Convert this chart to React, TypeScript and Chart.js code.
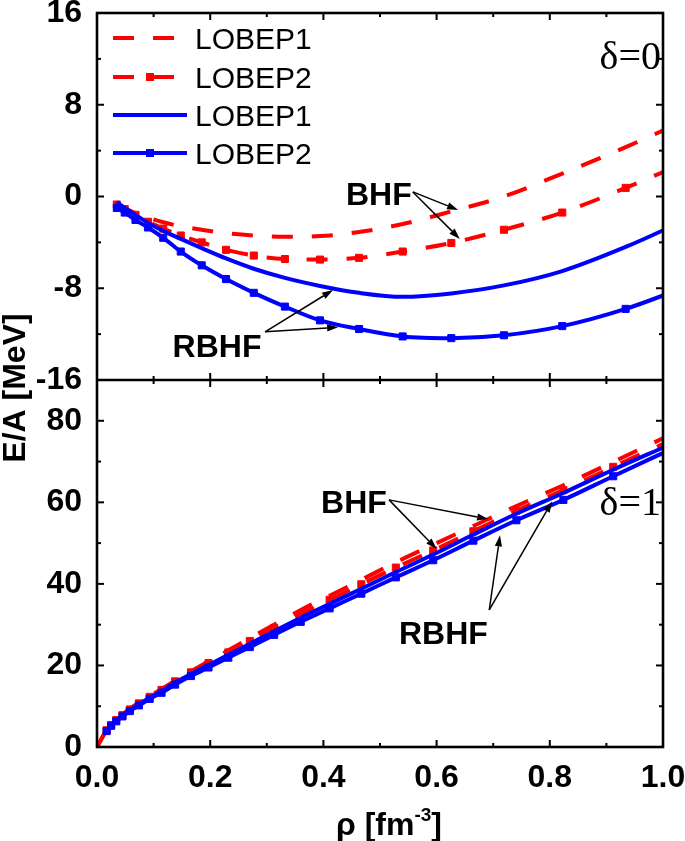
import React, { useEffect, useRef } from 'react';
import { Chart, registerables } from 'chart.js';

Chart.register(...registerables);

// ---------- data ----------
// delta = 0 (symmetric matter) density grid
const rhoSym = [0.035, 0.049, 0.068, 0.090, 0.117, 0.148, 0.185, 0.228, 0.277, 0.332, 0.394, 0.463, 0.540, 0.626, 0.719, 0.822, 0.934, 1.055];
const bhfL1Sym = [-0.6, -1.0, -1.45, -1.85, -2.25, -2.6, -2.9, -3.2, -3.4, -3.5, -3.45, -3.1, -2.4, -1.3, 0.0, 2.0, 4.3, 7.0];
const bhfL2Sym = [-0.7, -1.1, -1.6, -2.2, -2.8, -3.4, -4.0, -4.65, -5.15, -5.45, -5.5, -5.35, -4.8, -4.05, -2.9, -1.4, 0.75, 3.3];
const rbhfL1Sym = [-0.5, -1.0, -1.6, -2.3, -3.0, -3.7, -4.5, -5.4, -6.3, -7.1, -7.8, -8.4, -8.75, -8.45, -7.75, -6.5, -4.4, -1.7];
const rbhfL2Sym = [-1.0, -1.4, -2.05, -2.7, -3.6, -4.8, -6.0, -7.2, -8.4, -9.6, -10.8, -11.55, -12.2, -12.35, -12.1, -11.3, -9.8, -7.6];

// delta = 1 (neutron matter) density grid
const rhoNeu = [0.017, 0.025, 0.034, 0.045, 0.058, 0.074, 0.093, 0.114, 0.138, 0.166, 0.197, 0.232, 0.270, 0.313, 0.360, 0.411, 0.467, 0.528, 0.594, 0.665, 0.741, 0.824, 0.912, 1.006];
const rhoNeuBhf = [0.0, 0.017, 0.025, 0.034, 0.045, 0.058, 0.074, 0.093, 0.114, 0.138, 0.166, 0.197, 0.232, 0.270, 0.313, 0.360, 0.411, 0.467, 0.528, 0.594, 0.665, 0.741, 0.824, 0.912, 1.006];
const bhfL1Neu = [0.0, 4.2, 5.5, 6.7, 8.0, 9.4, 10.9, 12.5, 14.2, 16.3, 18.6, 21.0, 23.7, 26.7, 30.0, 33.6, 37.1, 41.0, 45.3, 49.6, 54.2, 59.1, 64.2, 69.9, 76.1];
const bhfL2Neu = [0.0, 4.1, 5.4, 6.6, 7.8, 9.2, 10.7, 12.3, 14.0, 16.1, 18.3, 20.6, 23.2, 26.0, 29.2, 32.6, 36.1, 39.9, 44.0, 48.2, 52.9, 58.0, 63.0, 68.7, 74.7];
const rbhfL1Neu = [4.0, 5.3, 6.5, 7.7, 9.0, 10.5, 12.1, 13.7, 15.8, 17.9, 20.1, 22.6, 25.3, 28.4, 31.7, 35.1, 38.8, 42.9, 47.2, 52.1, 57.2, 62.3, 68.0, 73.8];
const rbhfL2Neu = [3.9, 5.2, 6.3, 7.5, 8.8, 10.2, 11.8, 13.3, 15.3, 17.4, 19.5, 21.9, 24.5, 27.5, 30.7, 34.0, 37.6, 41.6, 45.8, 50.6, 55.6, 60.6, 66.4, 72.5];

// ticks
const xTicks = [0, 0.2, 0.4, 0.6, 0.8, 1.0];
const xMinor = [0.1, 0.3, 0.5, 0.7, 0.9];
const yTopTicks = [-16, -8, 0, 8, 16];
const yTopMinor = [-12, -4, 4, 12];
const yBotTicks = [0, 20, 40, 60, 80];
const yBotMinor = [10, 30, 50, 70];

// legend
const legendLabels = ['LOBEP1', 'LOBEP2', 'LOBEP1', 'LOBEP2'];
const legendColors = ['#ff0000', '#ff0000', '#0000ff', '#0000ff'];
const legendDashed = [true, true, false, false];
const legendMarker = [false, true, false, true];

// annotations (data coordinates)
const annotations = [
  { text: 'BHF', axis: 'yTop', at: [0.498, 0.3], from: [0.558, 0.4], to: [[0.638, -1.17], [0.641, -3.7]] },
  { text: 'RBHF', axis: 'yTop', at: [0.212, -12.95], from: [0.297, -11.8], to: [[0.417, -8.15], [0.426, -11.4]] },
  { text: 'BHF', axis: 'yBot', at: [0.454, 60.1], from: [0.516, 60.6], to: [[0.691, 55.9], [0.600, 48.6]] },
  { text: 'RBHF', axis: 'yBot', at: [0.612, 28.2], from: [0.693, 33.6], to: [[0.712, 51.9], [0.804, 60.2]] },
];
const deltaLabels = [
  { text: 'δ=0', axis: 'yTop', at: [1.0, 12.2] },
  { text: 'δ=1', axis: 'yBot', at: [1.0, 59.8] },
];

const SANS = "'Liberation Sans', Arial, Helvetica, sans-serif";
const SERIF = "'Liberation Serif', 'Times New Roman', serif";
const RED = '#ff0000';
const BLUE = '#0000ff';
const DASH = [21, 19];

const pts = (xs: number[], ys: number[]) => xs.map((x, i) => ({ x, y: ys[i] }));

function drawArrow(ctx: CanvasRenderingContext2D, x0: number, y0: number, x1: number, y1: number) {
  const ang = Math.atan2(y1 - y0, x1 - x0);
  const hl = 11, hw = 3.6;
  const bx = x1 - hl * Math.cos(ang), by = y1 - hl * Math.sin(ang);
  ctx.beginPath();
  ctx.moveTo(x0, y0);
  ctx.lineTo(bx, by);
  ctx.stroke();
  ctx.beginPath();
  ctx.moveTo(x1, y1);
  ctx.lineTo(bx + hw * Math.sin(ang), by - hw * Math.cos(ang));
  ctx.lineTo(bx - hw * Math.sin(ang), by + hw * Math.cos(ang));
  ctx.closePath();
  ctx.fill();
}

const decor = {
  id: 'decor',
  afterDatasetsDraw(chart: any) {
    const ctx: CanvasRenderingContext2D = chart.ctx;
    const xs = chart.scales.x, yT = chart.scales.yTop, yB = chart.scales.yBot;
    const L = xs.left, R = xs.right, T = yT.top, M = yT.bottom, B = yB.bottom;
    ctx.save();
    ctx.strokeStyle = '#000';
    ctx.fillStyle = '#000';
    ctx.setLineDash([]);
    ctx.lineWidth = 2;
    const hLine = (x0: number, y0: number, x1: number, y1: number) => {
      ctx.beginPath(); ctx.moveTo(x0, y0); ctx.lineTo(x1, y1); ctx.stroke();
    };
    const MAJ = 7, MIN = 4;
    const xt = (vals: number[], len: number) => {
      vals.forEach((v) => {
        const p = xs.getPixelForValue(v);
        hLine(p, B, p, B - len);
        hLine(p, M, p, M - len);
        hLine(p, M, p, M + len);
        hLine(p, T, p, T + len);
      });
    };
    xt(xTicks, MAJ); xt(xMinor, MIN);
    const yt = (sc: any, vals: number[], len: number) => {
      vals.forEach((v) => {
        const p = sc.getPixelForValue(v);
        hLine(L, p, L + len, p);
        hLine(R, p, R - len, p);
      });
    };
    yt(yT, yTopTicks, MAJ); yt(yT, yTopMinor, MIN);
    yt(yB, yBotTicks, MAJ); yt(yB, yBotMinor, MIN);
    // frame
    ctx.lineWidth = 2.6;
    ctx.strokeRect(L, T, R - L, B - T);
    hLine(L, M, R, M);

    // annotations
    ctx.lineWidth = 1.5;
    annotations.forEach((a) => {
      const sc = a.axis === 'yTop' ? yT : yB;
      const fx = xs.getPixelForValue(a.from[0]), fy = sc.getPixelForValue(a.from[1]);
      a.to.forEach((t) => drawArrow(ctx, fx, fy, xs.getPixelForValue(t[0]), sc.getPixelForValue(t[1])));
      ctx.font = `bold 32px ${SANS}`;
      ctx.textAlign = 'center';
      ctx.textBaseline = 'alphabetic';
      ctx.fillText(a.text, xs.getPixelForValue(a.at[0]), sc.getPixelForValue(a.at[1]) + 11.5);
    });
    // delta labels
    deltaLabels.forEach((d) => {
      const sc = d.axis === 'yTop' ? yT : yB;
      ctx.font = `40px ${SERIF}`;
      ctx.textAlign = 'right';
      ctx.textBaseline = 'alphabetic';
      ctx.fillText(d.text, xs.getPixelForValue(d.at[0]) - 2, sc.getPixelForValue(d.at[1]) + 12);
    });

    // legend
    const ly = [38, 77, 115, 153];
    legendLabels.forEach((lab, i) => {
      const y = ly[i];
      ctx.strokeStyle = legendColors[i];
      ctx.fillStyle = legendColors[i];
      ctx.lineWidth = 4;
      ctx.setLineDash(legendDashed[i] ? DASH : []);
      ctx.beginPath(); ctx.moveTo(113, y); ctx.lineTo(187, y); ctx.stroke();
      ctx.setLineDash([]);
      if (legendMarker[i]) ctx.fillRect(150 - 4, y - 4, 8, 8);
      ctx.fillStyle = '#000';
      ctx.font = `30px ${SANS}`;
      ctx.textAlign = 'left';
      ctx.fillText(lab, 195, y + 11);
    });

    // axis titles
    ctx.fillStyle = '#000';
    ctx.save();
    ctx.translate(25, M + 8);
    ctx.rotate(-Math.PI / 2);
    ctx.font = `bold 32px ${SANS}`;
    ctx.textAlign = 'center';
    ctx.textBaseline = 'alphabetic';
    ctx.fillText('E/A [MeV]', 0, 0);
    ctx.restore();

    const p1 = 'ρ [fm', sup = '-3', p2 = ']';
    ctx.font = `bold 32px ${SANS}`;
    const w1 = ctx.measureText(p1).width, w3 = ctx.measureText(p2).width;
    ctx.font = `bold 19px ${SANS}`;
    const w2 = ctx.measureText(sup).width;
    let x0 = 389 - (w1 + w2 + w3) / 2;
    const base = 835;
    ctx.textAlign = 'left';
    ctx.font = `bold 32px ${SANS}`;
    ctx.fillText(p1, x0, base);
    x0 += w1;
    ctx.font = `bold 19px ${SANS}`;
    ctx.fillText(sup, x0, base - 14);
    x0 += w2;
    ctx.font = `bold 32px ${SANS}`;
    ctx.fillText(p2, x0, base);
    ctx.restore();
  },
};

export default function App() {
  const ref = useRef<HTMLCanvasElement | null>(null);
  useEffect(() => {
    if (!ref.current) return;
    const base: any = { borderWidth: 4, cubicInterpolationMode: 'monotone', clip: 0, fill: false, pointStyle: 'rect', pointBorderWidth: 1 };
    const tickFont = { family: SANS, size: 32, weight: 'bold', lineHeight: 1.2 };
    const chart = new Chart(ref.current, {
      type: 'line',
      data: {
        datasets: [
          { ...base, label: 'RBHF LOBEP2', yAxisID: 'yTop', data: pts(rhoSym, rbhfL2Sym), borderColor: BLUE, backgroundColor: BLUE, pointRadius: 5 },
          { ...base, label: 'RBHF LOBEP1', yAxisID: 'yTop', data: pts(rhoSym, rbhfL1Sym), borderColor: BLUE, backgroundColor: BLUE, pointRadius: 0 },
          { ...base, label: 'BHF LOBEP2', yAxisID: 'yTop', data: pts(rhoSym, bhfL2Sym), borderColor: RED, backgroundColor: RED, borderDash: DASH, pointRadius: 5 },
          { ...base, label: 'BHF LOBEP1', yAxisID: 'yTop', data: pts(rhoSym, bhfL1Sym), borderColor: RED, backgroundColor: RED, borderDash: DASH, pointRadius: 0 },
          { ...base, label: 'RBHF LOBEP2 n', yAxisID: 'yBot', data: pts(rhoNeu, rbhfL2Neu), borderColor: BLUE, backgroundColor: BLUE, pointRadius: 5 },
          { ...base, label: 'RBHF LOBEP1 n', yAxisID: 'yBot', data: pts(rhoNeu, rbhfL1Neu), borderColor: BLUE, backgroundColor: BLUE, pointRadius: 0 },
          { ...base, label: 'BHF LOBEP2 n', yAxisID: 'yBot', data: pts(rhoNeuBhf, bhfL2Neu), borderColor: RED, backgroundColor: RED, borderDash: DASH, pointRadius: (c: any) => (c.dataIndex === 0 ? 0 : 5) },
          { ...base, label: 'BHF LOBEP1 n', yAxisID: 'yBot', data: pts(rhoNeuBhf, bhfL1Neu), borderColor: RED, backgroundColor: RED, borderDash: DASH, pointRadius: 0 },
        ],
      },
      options: {
        animation: false,
        responsive: false,
        events: [],
        layout: { autoPadding: false, padding: { left: 0, top: 13, right: 22, bottom: 0 } } as any,
        plugins: { legend: { display: false }, tooltip: { enabled: false } },
        scales: {
          x: {
            type: 'linear', position: 'bottom', min: 0, max: 1,
            grid: { display: false }, border: { display: false },
            afterBuildTicks: (s: any) => { s.ticks = xTicks.map((v) => ({ value: v })); },
            afterFit: (s: any) => { s.height = 94; s.paddingLeft = 0; s.paddingRight = 0; },
            ticks: { color: '#000', padding: 4, maxRotation: 0, autoSkip: false, font: tickFont, callback: (v: any) => Number(v).toFixed(1) },
          },
          yBot: {
            type: 'linear', position: 'left', stack: 'panels', stackWeight: 1, min: 0, max: 90,
            grid: { display: false }, border: { display: false },
            afterBuildTicks: (s: any) => { s.ticks = yBotTicks.map((v) => ({ value: v })); },
            afterFit: (s: any) => { s.width = 97; s.paddingTop = 0; s.paddingBottom = 0; },
            ticks: { color: '#000', padding: 7, autoSkip: false, font: tickFont, callback: (v: any) => String(v) },
          },
          yTop: {
            type: 'linear', position: 'left', stack: 'panels', stackWeight: 1, min: -16, max: 16,
            grid: { display: false }, border: { display: false },
            afterBuildTicks: (s: any) => { s.ticks = yTopTicks.map((v) => ({ value: v })); },
            afterFit: (s: any) => { s.width = 97; s.paddingTop = 0; s.paddingBottom = 0; },
            ticks: { color: '#000', padding: 7, autoSkip: false, font: tickFont, callback: (v: any) => String(v) },
          },
        } as any,
      },
      plugins: [decor],
    } as any);
    return () => chart.destroy();
  }, []);
  return (
    <div style={{ position: 'fixed', left: 0, top: 0, width: 685, height: 841, background: '#fff' }}>
      <canvas ref={ref} width={685} height={841} style={{ width: 685, height: 841 }} />
    </div>
  );
}
